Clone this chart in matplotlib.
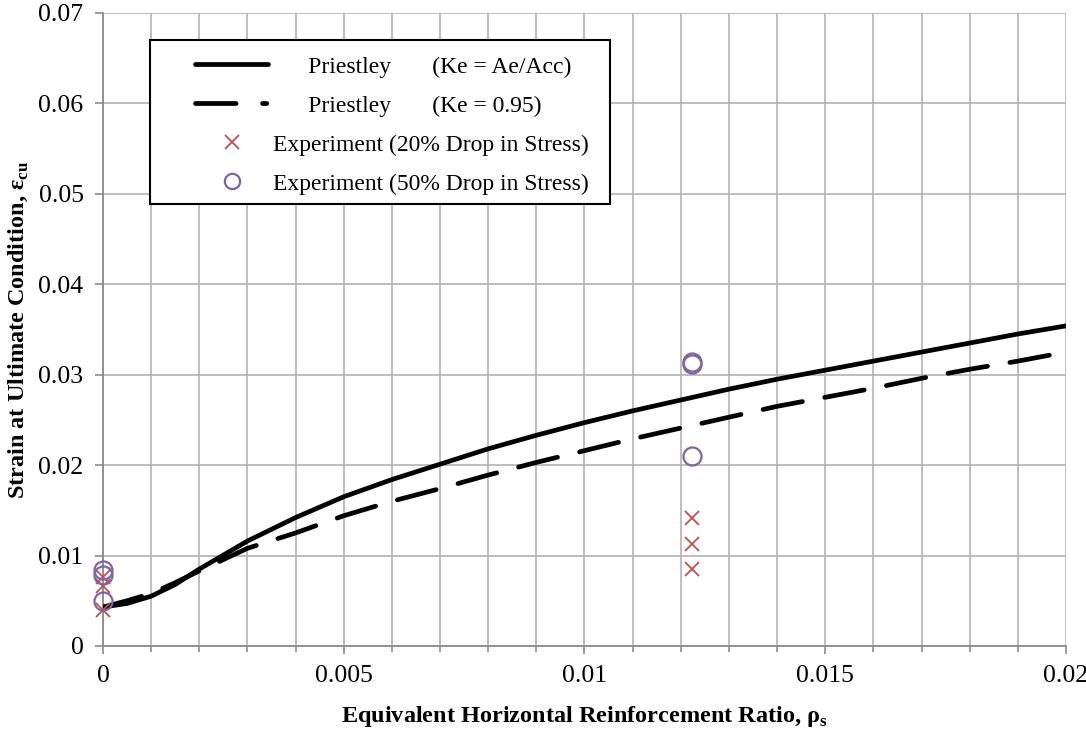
import numpy as np
import matplotlib
matplotlib.use("Agg")
import matplotlib.pyplot as plt
from matplotlib.lines import Line2D
from matplotlib.patches import Rectangle
from matplotlib.ticker import MultipleLocator, FuncFormatter

plt.rcParams['font.family'] = ['Liberation Serif', 'DejaVu Serif']
plt.rcParams['mathtext.fontset'] = 'custom'
plt.rcParams['mathtext.rm'] = 'Liberation Serif'

# --- Priestley model curves ---
rho = [0, 0.0005, 0.001, 0.0015, 0.002, 0.003, 0.004, 0.005, 0.006, 0.007,
       0.008, 0.009, 0.010, 0.011, 0.012, 0.013, 0.014, 0.015, 0.016, 0.017,
       0.018, 0.019, 0.020]
eps_ke_area = [0.0043, 0.0047, 0.0055, 0.0068, 0.0085, 0.0116, 0.0142, 0.0165,
               0.0184, 0.0201, 0.0218, 0.0233, 0.0247, 0.0260, 0.0272, 0.0284,
               0.0295, 0.0305, 0.0315, 0.0325, 0.0335, 0.0345, 0.0354]
eps_ke_095 = [0.0043, 0.0050, 0.0058, 0.0070, 0.0083, 0.0108, 0.0125, 0.0144,
              0.0160, 0.0174, 0.0189, 0.0203, 0.0216, 0.0229, 0.0241, 0.0253,
              0.0265, 0.0275, 0.0285, 0.0296, 0.0306, 0.0315, 0.0325]

# --- test results ---
rho_20 = [0, 0, 0, 0.01223, 0.01223, 0.01223]
eps_20 = [0.0040, 0.0066, 0.0076, 0.0085, 0.0113, 0.0141]
rho_50 = [0, 0, 0, 0.01223, 0.01223, 0.01223]
eps_50 = [0.0050, 0.0078, 0.0084, 0.0210, 0.0312, 0.0314]

labels = ['      Priestley       (Ke = Ae/Acc)',
          '      Priestley       (Ke = 0.95)',
          'Experiment (20% Drop in Stress)',
          'Experiment (50% Drop in Stress)']

fig = plt.figure(figsize=(10.86, 7.29), dpi=100)
ax = fig.add_axes([0.0948, 0.1139, 0.8868, 0.8683])

grid_c = '#b3b3b3'
lw = 3.4
ax.plot(rho, eps_ke_area, color='black', lw=lw, solid_capstyle='round',
        solid_joinstyle='round', zorder=4)
ax.plot(rho, eps_ke_095, color='black', lw=lw, dashes=(8.5, 4.8),
        dash_capstyle='round', zorder=4)
ax.plot(rho_20, eps_20, ls='none', marker='x', ms=10.5, mew=1.3,
        color='#C0504D', zorder=5, clip_on=False)
ax.plot(rho_50, eps_50, ls='none', marker='o', ms=13, mew=1.6,
        mfc='none', mec='#8064A2', zorder=5, clip_on=False)

ax.set_xlim(0, 0.02)
ax.set_ylim(0, 0.07)
ax.xaxis.set_major_locator(MultipleLocator(0.005))
ax.xaxis.set_minor_locator(MultipleLocator(0.001))
ax.yaxis.set_major_locator(MultipleLocator(0.01))
fmt = FuncFormatter(lambda v, pos: '0' if abs(v) < 1e-12 else f'{v:g}')
ax.xaxis.set_major_formatter(fmt)
ax.yaxis.set_major_formatter(fmt)

ax.grid(True, which='major', color=grid_c, lw=1.2)
ax.grid(True, which='minor', axis='x', color=grid_c, lw=1.2)
for s in ['top', 'right']:
    ax.spines[s].set_visible(False)
for s in ['left', 'bottom']:
    ax.spines[s].set_color('#8c8c8c')
    ax.spines[s].set_linewidth(1.3)
ax.tick_params(which='both', direction='out', color='#8c8c8c', width=1.2,
               labelsize=18.5)
ax.tick_params(which='major', length=6, pad=8)
ax.tick_params(which='minor', length=4)
ax.set_axisbelow(True)

ax.set_xlabel(r'Equivalent Horizontal Reinforcement Ratio, ρ$_\mathregular{s}$',
              fontsize=17.5, fontweight='bold', labelpad=12)
ax.set_ylabel(r'Strain at Ultimate Condition, ε$_\mathregular{cu}$',
              fontsize=17.5, fontweight='bold', labelpad=6)

# legend box drawn separately so the entries can sit inset from its left edge
box = Rectangle((0.0488, 0.698), 0.4777, 0.259, transform=ax.transAxes,
                facecolor='white', edgecolor='black', lw=1.5, zorder=6)
ax.add_patch(box)

handles = [
    Line2D([], [], color='black', lw=lw, solid_capstyle='round'),
    Line2D([], [], color='black', lw=lw, dashes=(8.6, 5.6, 0.9, 20),
           dash_capstyle='round'),
    Line2D([], [], ls='none', marker='x', ms=10.5, mew=1.3, color='#C0504D'),
    Line2D([], [], ls='none', marker='o', ms=11, mew=1.6, mfc='none',
           mec='#8064A2'),
]
leg = ax.legend(handles, labels, loc='upper left',
                bbox_to_anchor=(0.0955, 0.932), fontsize=17, frameon=False,
                handlelength=3.1, handletextpad=0.2, borderpad=0,
                labelspacing=0.74, borderaxespad=0)
leg.set_zorder(7)

fig.savefig('out.png', dpi=100)
